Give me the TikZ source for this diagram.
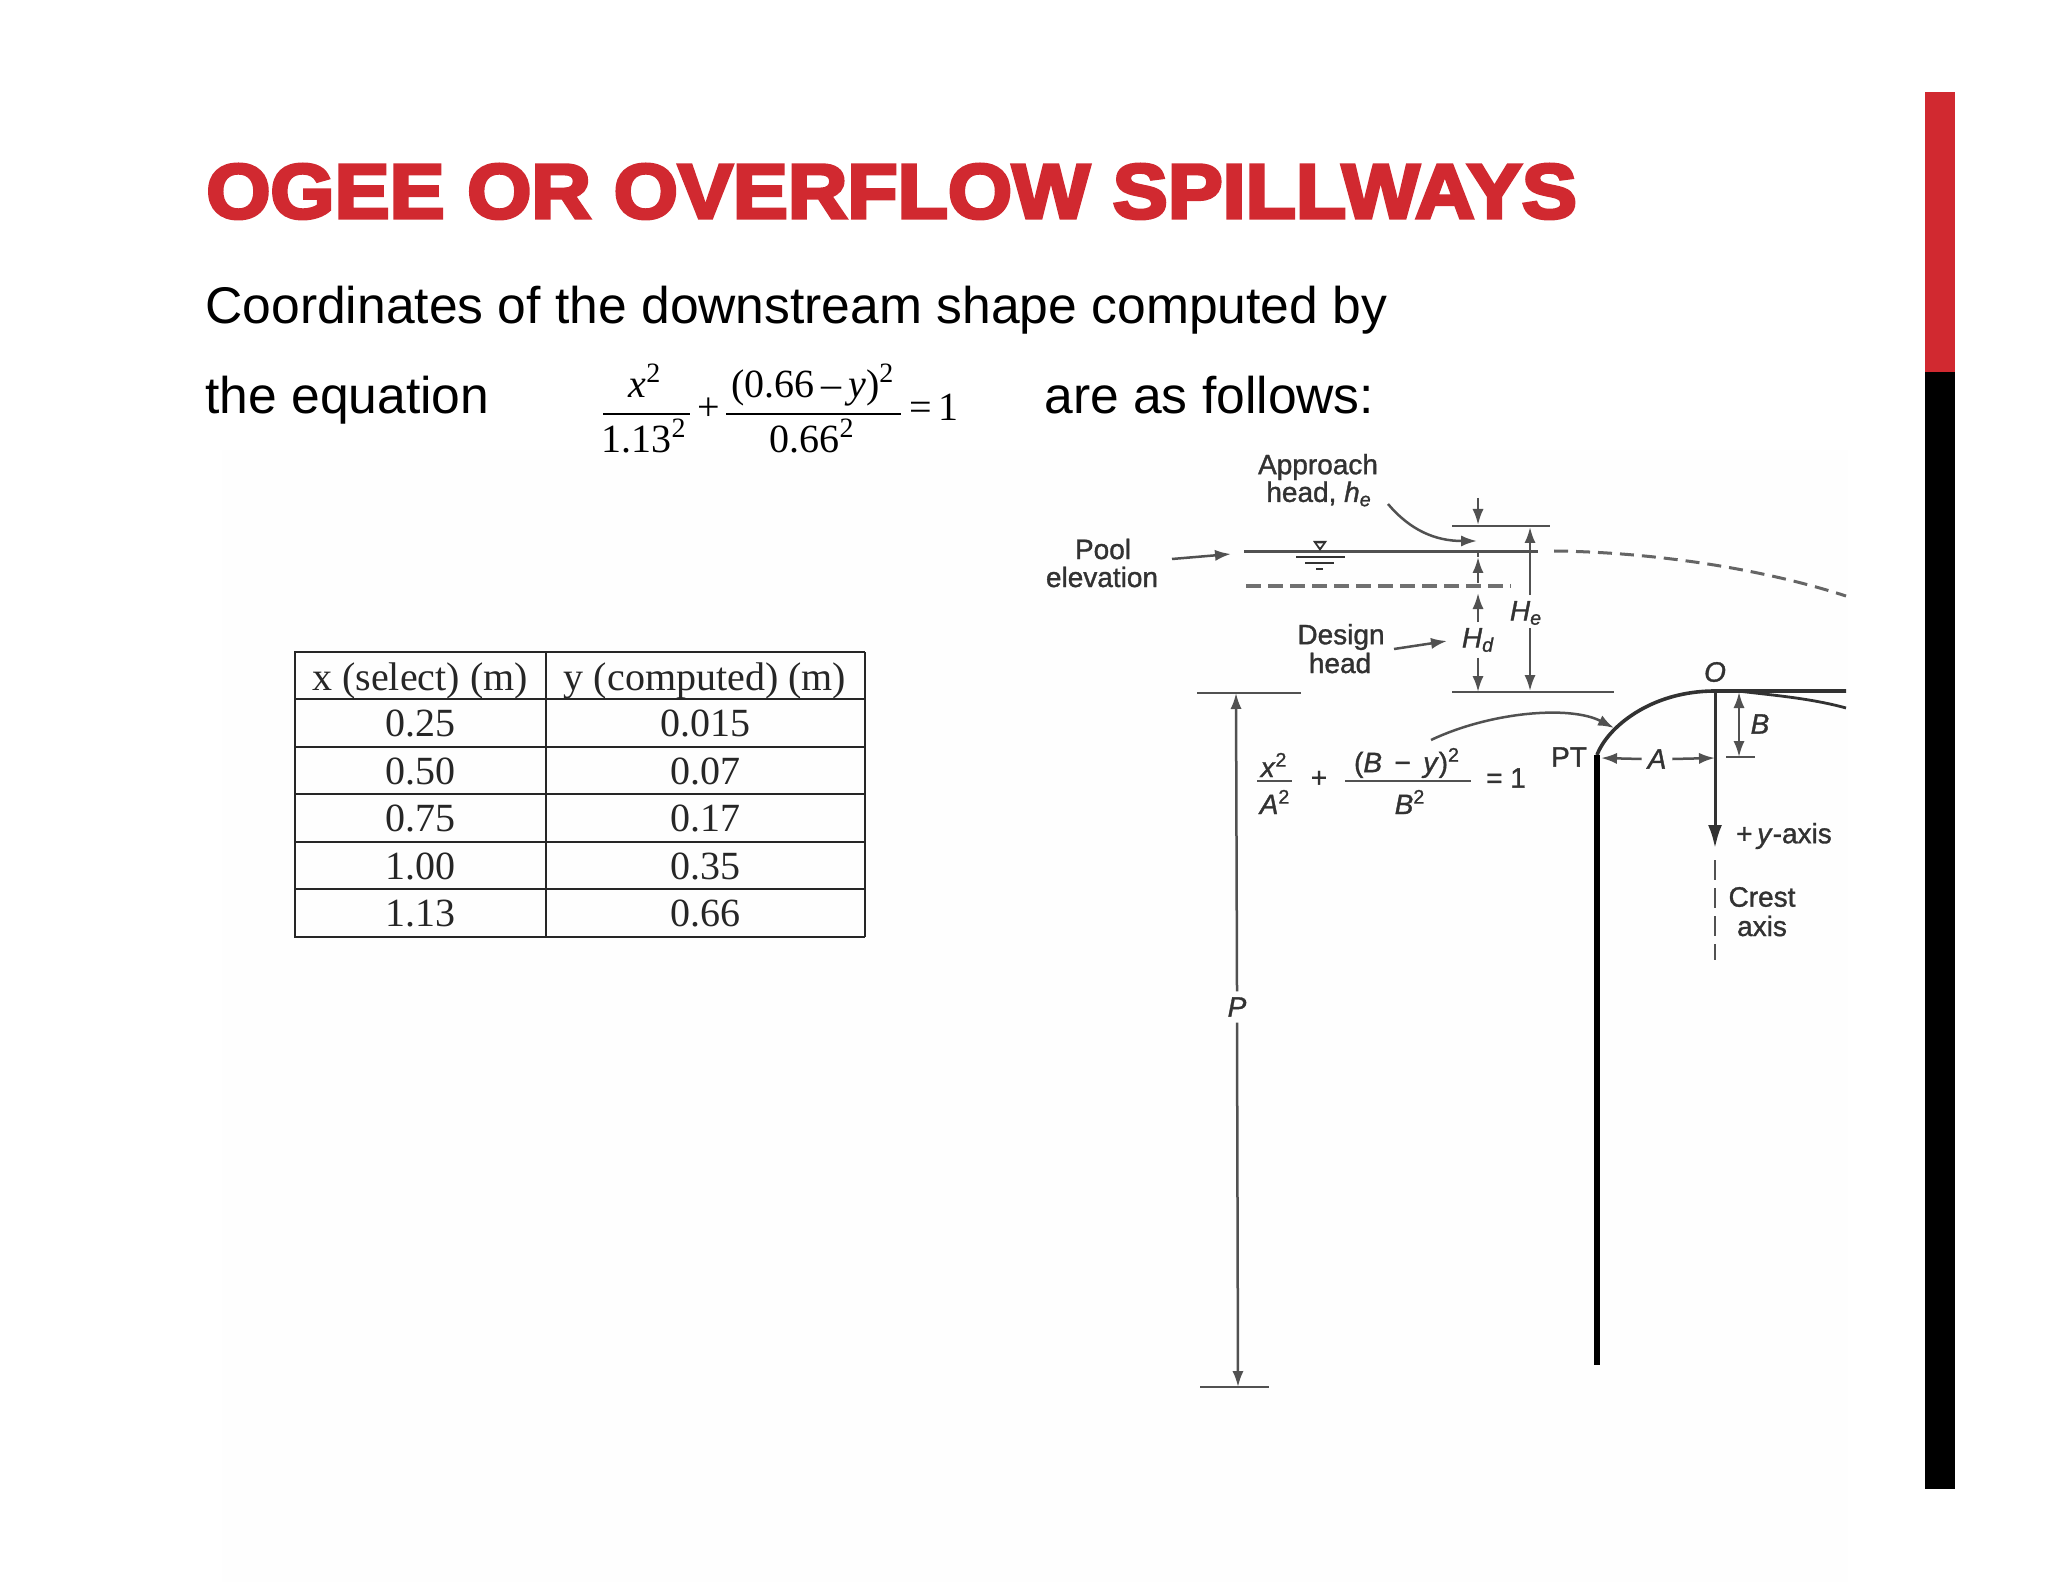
\documentclass[tikz,border=0pt]{standalone}
\usepackage{fontspec}
\setmainfont{Liberation Sans}
\newfontfamily\serifface{Liberation Serif}
\newfontfamily\titleface[FakeBold=4.5,FakeStretch=1.07]{Liberation Sans Bold}
\newfontfamily\sketchface[FakeBold=1.2]{Liberation Sans}
\usetikzlibrary{arrows.meta}
\definecolor{slidered}{RGB}{209,41,48}
\definecolor{inkgray}{RGB}{50,50,50}
\definecolor{paper}{RGB}{254,254,254}
\tikzset{
  lbl/.style={inner sep=0pt,outer sep=3pt,text=inkgray,align=center,font=\sketchface\fontsize{14}{16}\selectfont},
  body/.style={inner sep=0pt,anchor=base west,font=\fontsize{25.8}{28}\selectfont},
  cell/.style={inner sep=0pt,anchor=base,text=black!85,font=\serifface\fontsize{20}{22}\selectfont},
  eqn/.style={inner sep=0pt,anchor=base,font=\serifface\fontsize{20}{22}\selectfont},
  thin line/.style={draw=inkgray!85,line width=1.25pt},
  dim/.style={thin line,-{Latex[length=8pt,width=5.6pt]}},
}
\begin{document}
\begin{tikzpicture}[x=.5pt,y=-.5pt]
    \useasboundingbox (0,0) rectangle (2048,1582);
    \fill[white] (0,0) rectangle (2048,1582);
    \fill[paper] (222,450) rectangle (1848,1582);

    % side bar
    \fill[slidered] (1925,92) rectangle (1955,372);
    \fill[black] (1925,372) rectangle (1955,1489);

    % heading and text
    \node[inner sep=0pt,anchor=base west,text=slidered,font=\titleface\fontsize{38.5}{42}\selectfont] (title) at (206,218) {OGEE OR OVERFLOW SPILLWAYS};
    \node[body] (line1) at (205,324) {Coordinates of the downstream shape computed by};
    \node[body] (line2) at (205,414) {the equation};
    \node[body] (line3) at (1044,414) {are as follows:};

    % equation of the text line
    \coordinate (f1l) at (603,414);
    \coordinate (f1r) at (690,414);
    \coordinate (f2l) at (726,414);
    \coordinate (f2r) at (901,414);
    \draw[line width=1pt] (f1l) -- (f1r);
    \draw[line width=1pt] (f2l) -- (f2r);
    \node[eqn] (n1) at (645,398) {\textit{x}\textsuperscript{2}};
    \node[eqn] (d1) at (644,453) {1.13\textsuperscript{2}};
    \node[eqn] (plus) at (709,421) {+};
    \node[eqn] (n2) at (813,398) {(0.66\,–\,\textit{y})\textsuperscript{2}};
    \node[eqn] (d2) at (812,453) {0.66\textsuperscript{2}};
    \node[eqn] (eq1) at (934,421) {=\,1};

    % table
    \foreach \rowy in {652,699,747,794,842,889,937}
      \draw[line width=1pt,black!85] (294,\rowy) -- (865,\rowy);
    \foreach \colx in {295,546,865}
      \draw[line width=1pt,black!85] (\colx,652) -- (\colx,937);
    \node[cell] (h1) at (420,690) {x (select) (m)};
    \node[cell] (h2) at (705,690) {y (computed) (m)};
    \foreach \i/\rowy/\xval/\yval in {1/736/0.25/0.015,2/784/0.50/0.07,3/831/0.75/0.17,4/879/1.00/0.35,5/926/1.13/0.66}{
      \node[cell] (xv\i) at (420,\rowy) {\xval};
      \node[cell] (yv\i) at (705,\rowy) {\yval};
    }

    % labels of the sketch
    \node[lbl] (approach) at (1318,467) {Approach};
    \node[lbl] (appr2) at (1319,494) {head, \textit{h\textsubscript{e}}};
    \node[lbl] (pool) at (1103,549) {Pool};
    \node[lbl] (elev) at (1102,577) {elevation};
    \node[lbl] (design) at (1341,637) {Design};
    \node[lbl] (dhead) at (1340,663) {head};
    \node[lbl] (He) at (1526,613) {\textit{H\textsubscript{e}}};
    \node[lbl] (Hd) at (1478,640) {\textit{H\textsubscript{d}}};
    \node[lbl] (Pl) at (1237,1007) {\textit{P}};
    \node[lbl] (Ol) at (1715,672) {\textit{O}};
    \node[lbl] (Bl) at (1760,724) {\textit{B}};
    \node[lbl] (Al) at (1657,759) {\textit{A}};
    \node[lbl] (PTl) at (1569,757) {PT};
    \node[lbl] (yaxis) at (1784,836) {+\,\textit{y}-axis};
    \node[lbl] (crest) at (1762,897) {Crest};
    \node[lbl] (caxis) at (1762,926) {axis};

    % equation of the sketch
    \coordinate (s1l) at (1257,781);
    \coordinate (s1r) at (1292,781);
    \coordinate (s2l) at (1345,781);
    \coordinate (s2r) at (1471,781);
    \draw[thin line] (s1l) -- (s1r);
    \draw[thin line] (s2l) -- (s2r);
    \node[lbl] (sx) at (1274,765) {\textit{x}\textsuperscript{2}};
    \node[lbl] (sa) at (1275,802) {\textit{A}\textsuperscript{2}};
    \node[lbl] (splus) at (1319,779) {+};
    \node[lbl] (sb) at (1407,763) {(\textit{B}\, − \,\textit{y})\textsuperscript{2}};
    \node[lbl] (sb2) at (1410,802) {\textit{B}\textsuperscript{2}};
    \node[lbl] (seq) at (1506,778) {= 1};

    % water surface
    \coordinate (wl) at (1244,552);
    \coordinate (wr) at (1538,552);
    \coordinate (wd1) at (1554,551);
    \coordinate (wd2) at (1846,596);
    \coordinate (dl) at (1246,586);
    \coordinate (dr) at (1511,586);
    \draw[thin line,line width=1.5pt] (wl) -- (wr);
    \draw[thin line,draw=inkgray!75,line width=1.5pt,dash pattern=on 7pt off 4pt] (wd1) .. controls (1650,552) and (1760,568) .. (wd2);
    \draw[thin line,draw=inkgray!70,line width=1.6pt,dash pattern=on 7.5pt off 3.5pt] (dl) -- (dr);
    \fill[inkgray] (1313,541) -- (1327,541) -- (1320,551) -- cycle;
    \fill[white] (1317,543.5) -- (1323,543.5) -- (1320,547.5) -- cycle;
    \draw[inkgray,line width=.9pt] (1296,557) -- (1345,557) (1305,563) -- (1334,563) (1316,569) -- (1323,569);

    % bars
    \coordinate (tb1) at (1452,526);
    \coordinate (tb2) at (1550,526);
    \coordinate (lb1) at (1452,692);
    \coordinate (lb2) at (1614,692);
    \coordinate (pb1) at (1197,693);
    \coordinate (pb2) at (1301,693);
    \coordinate (qb1) at (1200,1387);
    \coordinate (qb2) at (1269,1387);
    \foreach \a/\b in {tb1/tb2,lb1/lb2,pb1/pb2,qb1/qb2}
      \draw[thin line] (\a) -- (\b);

    % dimension arrows
    \coordinate (a1) at (1478,498);
    \coordinate (a2) at (1478,525);
    \coordinate (a3) at (1478,583);
    \coordinate (a4) at (1478,557);
    \coordinate (a5) at (1478,593);
    \coordinate (a6) at (1478,692);
    \coordinate (a7) at (1478,552);
    \coordinate (e1) at (1530,527);
    \coordinate (e2) at (1530,691);
    \coordinate (e3) at (1530,595);
    \coordinate (e4) at (1530,628);
    \coordinate (p1) at (1236,693);
    \coordinate (p2) at (1238,1387);
    \draw[dim] (a1) -- (a2);
    \draw[thin line] (a7) -- (a4);
    \draw[dim] (a3) -- (a4);
    \draw[dim] (Hd.north) -- (a5);
    \draw[dim] (Hd.south) -- (a6);
    \draw[dim] (e3) -- (e1);
    \draw[dim] (e4) -- (e2);
    \draw[dim] (Pl.north) -- (p1);
    \draw[dim] (Pl.south) -- (p2);

    % pointers
    \coordinate (c1) at (1388,504);
    \coordinate (c2) at (1477,541);
    \coordinate (c3) at (1172,559);
    \coordinate (c4) at (1231,554);
    \coordinate (c5) at (1394,649);
    \coordinate (c6) at (1447,641);
    \coordinate (c7) at (1431,740);
    \coordinate (c8) at (1614,728);
    \draw[dim] (c1) .. controls (1410,530) and (1435,541) .. (c2);
    \draw[dim] (c3) -- (c4);
    \draw[dim] (c5) -- (c6);
    \draw[dim] (c7) .. controls (1490,712) and (1570,705) .. (c8);

    % crest
    \coordinate (pt) at (1597,755);
    \coordinate (o) at (1715,691);
    \coordinate (cr) at (1846,691);
    \coordinate (cs) at (1738,691);
    \coordinate (ce) at (1846,708);
    \coordinate (bt) at (1597,1365);
    \draw[inkgray,line width=1.8pt] (pt) .. controls (1607,728) and (1650,691) .. (o) -- (cr);
    \draw[inkgray,line width=1.4pt] (cs) .. controls (1770,695) and (1810,698) .. (ce);
    \draw[black,line width=3.2pt] (pt) -- (bt);

    % axis
    \coordinate (ya) at (1715,848);
    \coordinate (y1) at (1715,860);
    \coordinate (y2) at (1715,960);
    \draw[inkgray,line width=1.5pt,-{Latex[length=11.5pt,width=7pt]}] (o) -- (ya);
    \draw[thin line,dash pattern=on 10pt off 4pt] (y1) -- (y2);

    % A and B
    \coordinate (am) at (1601,758);
    \coordinate (an) at (1715,758);
    \coordinate (bb) at (1739,692);
    \coordinate (bc) at (1739,757);
    \coordinate (bd) at (1726,757);
    \coordinate (be) at (1755,757);
    \draw[dim] (Al.west) -- (am);
    \draw[dim] (Al.east) -- (an);
    \draw[thin line,{Latex[length=8pt,width=5.6pt]}-{Latex[length=8pt,width=5.6pt]}] (bb) -- (bc);
    \draw[thin line] (bd) -- (be);
\end{tikzpicture}
\end{document}
